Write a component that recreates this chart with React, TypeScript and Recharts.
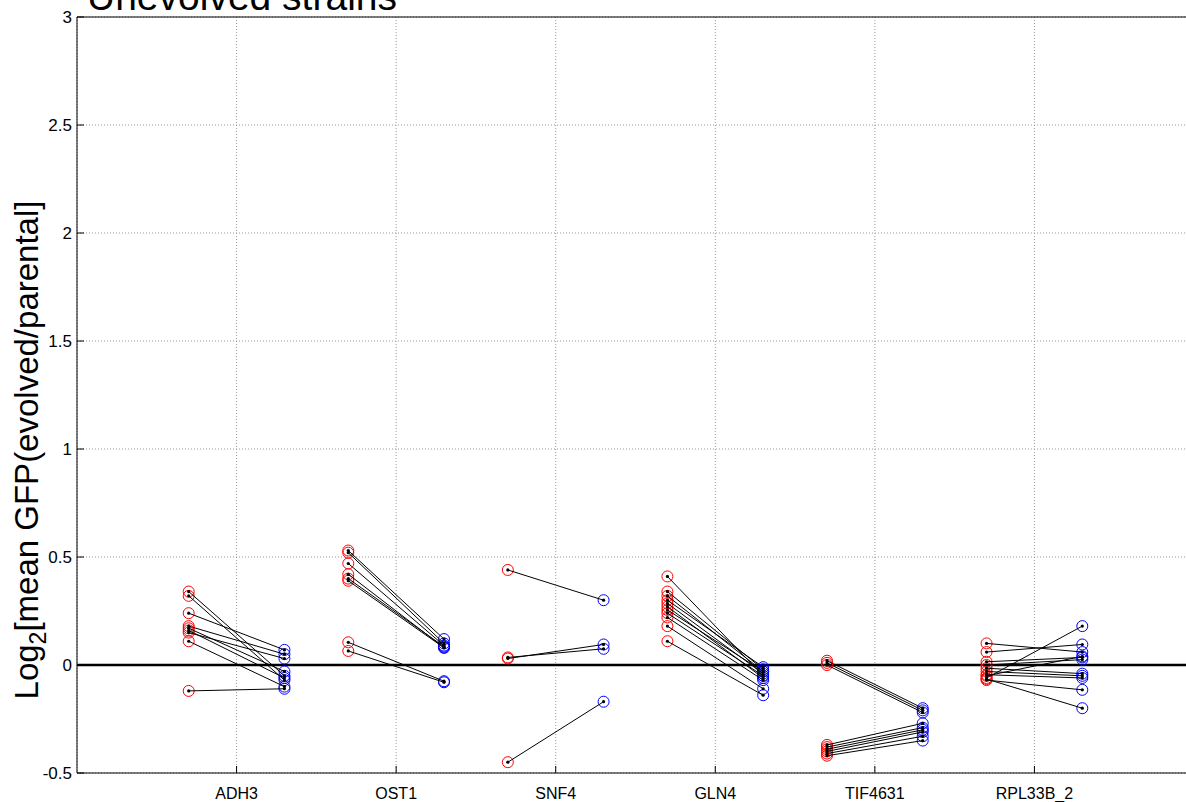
import React from 'react';
import {
  ComposedChart,
  Scatter,
  XAxis,
  YAxis,
  CartesianGrid,
  ReferenceLine,
} from 'recharts';

const genes = ['ADH3', 'OST1', 'SNF4', 'GLN4', 'TIF4631', 'RPL33B_2'];

// log2 ratios, paired by index (unevolved -> evolved)
const unevolved: number[][] = [
  [0.34, 0.32, 0.24, 0.18, 0.17, 0.16, 0.15, 0.11, -0.12],
  [0.53, 0.52, 0.47, 0.42, 0.4, 0.39, 0.105, 0.065],
  [0.44, 0.03, 0.035, -0.45],
  [0.41, 0.34, 0.32, 0.3, 0.285, 0.27, 0.255, 0.24, 0.22, 0.18, 0.11],
  [0.02, 0.01, 0.0, -0.37, -0.38, -0.39, -0.4, -0.41, -0.42],
  [0.1, 0.06, 0.015, 0.0, -0.015, -0.03, -0.045, -0.06, -0.065, -0.07, -0.05],
];

const evolved: number[][] = [
  [-0.05, -0.07, 0.07, 0.05, -0.03, -0.06, 0.03, -0.1, -0.11],
  [0.12, 0.1, 0.09, 0.08, 0.085, 0.08, -0.075, -0.08],
  [0.3, 0.095, 0.075, -0.17],
  [-0.05, -0.02, -0.03, -0.01, -0.04, -0.06, -0.03, -0.05, -0.07, -0.11, -0.14],
  [-0.2, -0.21, -0.22, -0.27, -0.29, -0.3, -0.31, -0.33, -0.35],
  [0.06, 0.095, 0.035, 0.025, -0.04, -0.05, -0.06, 0.18, -0.2, -0.115, 0.04],
];

const yTicks = [-0.5, 0, 0.5, 1, 1.5, 2, 2.5, 3];
const xTicks = [1, 2, 3, 4, 5, 6];
const OFFSET = 0.3;

const FONT = "Arial, 'Liberation Sans', Helvetica, sans-serif";

const redPoints = unevolved.flatMap((vals, i) => vals.map((y) => ({ x: i + 1 - OFFSET, y })));
const bluePoints = evolved.flatMap((vals, i) => vals.map((y) => ({ x: i + 1 + OFFSET, y })));
const pairs = unevolved.flatMap((vals, i) =>
  vals.map((y, j) => [
    { x: i + 1 - OFFSET, y },
    { x: i + 1 + OFFSET, y: evolved[i][j] },
  ])
);

const ring = (color: string) => (props: any) => (
  <circle cx={props.cx} cy={props.cy} r={5.5} fill="none" stroke={color} strokeWidth={1} />
);

const dot = (props: any) => <circle cx={props.cx} cy={props.cy} r={1.6} fill="#000" />;

const XTick = (props: any) => {
  const { x, y, payload } = props;
  return (
    <g>
      <line x1={x} y1={y} x2={x} y2={y - 7} stroke="#000" />
      <text x={x} y={y + 26} textAnchor="middle" fontSize={16} fontFamily={FONT} fill="#000">
        {genes[payload.value - 1]}
      </text>
    </g>
  );
};

const YTick = (props: any) => {
  const { x, y, payload } = props;
  return (
    <g>
      <line x1={x} y1={y} x2={x + 7} y2={y} stroke="#000" />
      <text x={x - 5} y={y} dy="0.35em" textAnchor="end" fontSize={17} fontFamily={FONT} fill="#000">
        {payload.value}
      </text>
    </g>
  );
};

export default function App() {
  return (
    <div style={{ position: 'absolute', left: 0, top: 0, width: 1186, height: 802, overflow: 'hidden', background: '#fff' }}>
      <ComposedChart width={1200} height={802} margin={{ top: 17, right: 6, bottom: 0, left: 0 }}>
        <CartesianGrid stroke="#999" strokeDasharray="1 2" verticalPoints={undefined} />
        <XAxis
          type="number"
          dataKey="x"
          domain={[0, 7]}
          ticks={xTicks}
          height={29}
          tickSize={0}
          tickMargin={0}
          axisLine={{ stroke: '#000' }}
          tickLine={false}
          tick={<XTick />}
          allowDataOverflow
        />
        <YAxis
          type="number"
          dataKey="y"
          domain={[-0.5, 3]}
          ticks={yTicks}
          width={77}
          tickSize={0}
          tickMargin={0}
          axisLine={{ stroke: '#000' }}
          tickLine={false}
          tick={<YTick />}
          allowDataOverflow
          label={{
            content: () => (
              <text
                transform="translate(38, 450) rotate(-90)"
                textAnchor="middle"
                fontSize={33}
                fontFamily={FONT}
                fill="#000"
              >
                Log<tspan fontSize={23} dy={8}>2</tspan>
                <tspan dy={-8}>[mean GFP(evolved/parental]</tspan>
              </text>
            ),
          }}
        />
        <ReferenceLine y={3} stroke="#000" strokeWidth={1} />
        <ReferenceLine y={0} stroke="#000" strokeWidth={2.5} />
        <Scatter data={redPoints} shape={ring('#ff0000')} isAnimationActive={false} legendType="none" />
        <Scatter data={bluePoints} shape={ring('#0000ff')} isAnimationActive={false} legendType="none" />
        {pairs.map((p, k) => (
          <Scatter
            key={k}
            data={p}
            line={{ stroke: '#000', strokeWidth: 1 }}
            shape={dot}
            isAnimationActive={false}
            legendType="none"
          />
        ))}
        <text x={87} y={10} fontSize={39} fontFamily={FONT} fill="#000">
          Unevolved strains
        </text>
      </ComposedChart>
    </div>
  );
}
